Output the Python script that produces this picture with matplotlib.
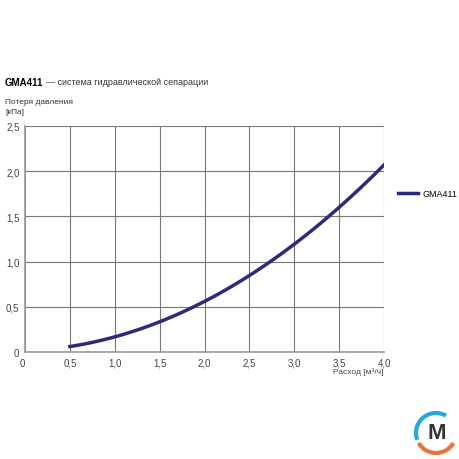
import matplotlib
matplotlib.use("Agg")
import matplotlib.pyplot as plt
from matplotlib.patches import Arc
import numpy as np

flow = [0.5, 1.0, 1.5, 2.0, 2.5, 3.0, 3.5, 4.0]
dp = [0.06, 0.17, 0.33, 0.56, 0.85, 1.19, 1.60, 2.07]
xticks = [0, 0.5, 1.0, 1.5, 2.0, 2.5, 3.0, 3.5, 4.0]
xlabels = ["0", "0,5", "1,0", "1,5", "2,0", "2,5", "3,0", "3,5", "4,0"]
yticks = [0, 0.5, 1.0, 1.5, 2.0, 2.5]
ylabels = ["0", "0,5", "1,0", "1,5", "2,0", "2,5"]

plt.rcParams['font.family'] = ['Liberation Sans', 'DejaVu Sans']
fig = plt.figure(figsize=(4.6, 4.6), dpi=100)
ax = fig.add_axes([25/460, 1-353/460, (384-25)/460, (353-127)/460])
xs = np.linspace(0.5, 4.0, 100)
coef = np.polyfit(flow, dp, 3)
ax.plot(xs, np.polyval(coef, xs), color='#2e2a7a', lw=2.5, label='GMA411')
ax.set_xlim(0, 4); ax.set_ylim(0, 2.5)
ax.set_xticks(xticks); ax.set_xticklabels(xlabels)
ax.set_yticks(yticks); ax.set_yticklabels(ylabels)
ax.grid(True, color='#777777', lw=0.8)
ax.tick_params(axis='x', length=0, labelsize=7, colors='#444444', pad=4)
ax.tick_params(axis='y', length=0, labelsize=7, colors='#444444', pad=4)
ax.get_xticklabels()[0].set_horizontalalignment('right')
for s in ['top', 'right']:
    ax.spines[s].set_visible(False)
for s in ['left', 'bottom']:
    ax.spines[s].set_color('#999999'); ax.spines[s].set_linewidth(1.2)
ax.legend(loc='center left', bbox_to_anchor=(1.04, 0.7), frameon=False, fontsize=6.5,
          handlelength=2.2, handletextpad=0.5, borderaxespad=0, borderpad=0)
fig.text(5/460, 1-83/460, "GMA411", fontsize=7, fontweight='bold', va='center')
fig.text(46/460, 1-83/460, "— система гидравлической сепарации", fontsize=6.5, va='center', color='#333333')
fig.text(5/460, 1-107/460, "Потеря давления\n[кПа]", fontsize=6, va='center', color='#333333', linespacing=1.6)
fig.text(384/460, 1-372/460, "Расход [м³/ч]", fontsize=6, ha='right', va='center', color='#444444')
la = fig.add_axes([412/460, 1-458/460, 48/460, 48/460]); la.axis('off')
la.set_xlim(-1.2, 1.2); la.set_ylim(-1.2, 1.2); la.set_aspect('equal')
la.add_patch(Arc((0, 0), 2, 2, theta1=60, theta2=200, color='#29a8e0', lw=3))
la.add_patch(Arc((0, 0), 2, 2, theta1=210, theta2=330, color='#e8743b', lw=3))
la.text(0.05, 0, "M", fontsize=16, fontweight='bold', ha='center', va='center', color='#333333')
fig.savefig("out.png", dpi=100)
